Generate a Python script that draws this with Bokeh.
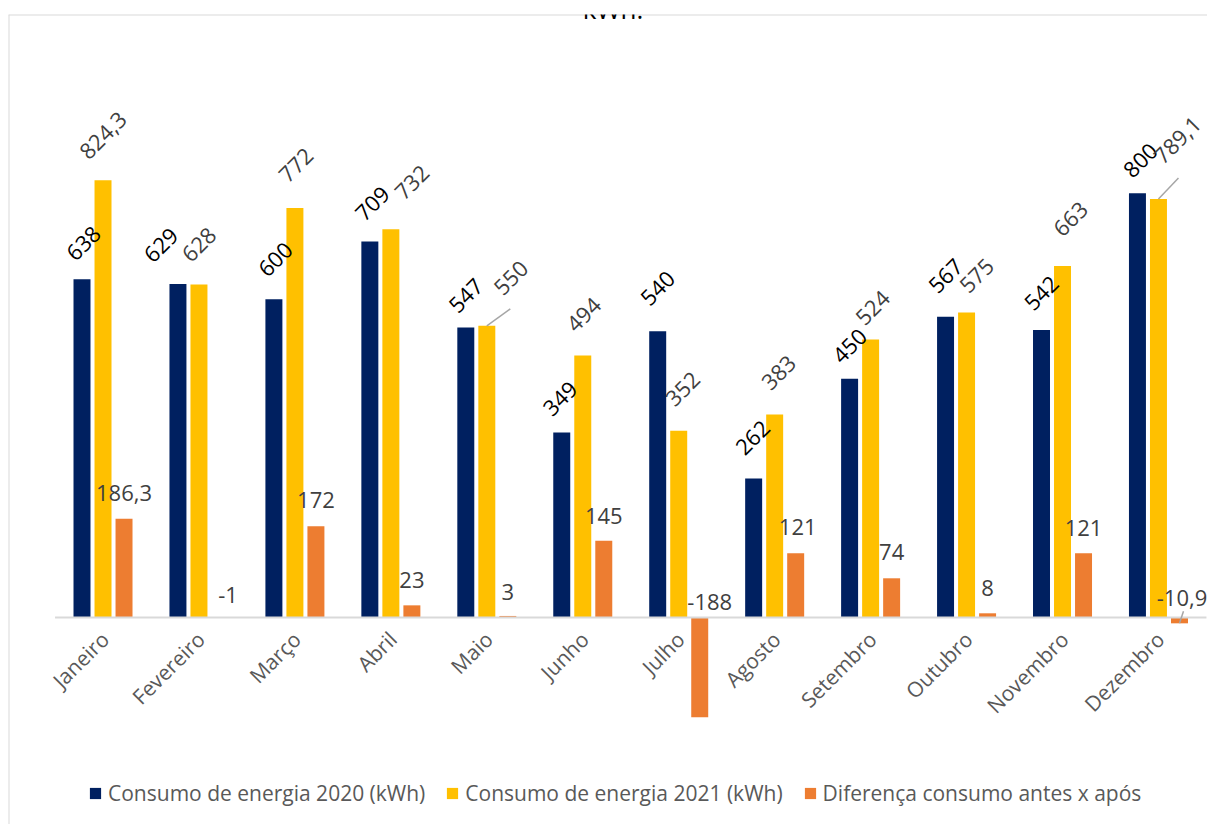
import math

from bokeh.core.properties import value
from bokeh.embed import file_html
from bokeh.models import ColumnDataSource, Label, Legend, LegendItem, Span
from bokeh.plotting import figure
from bokeh.resources import INLINE
from bokeh.transform import dodge

# ---- data -------------------------------------------------------------
months = ["Janeiro", "Fevereiro", "Março", "Abril", "Maio", "Junho",
          "Julho", "Agosto", "Setembro", "Outubro", "Novembro", "Dezembro"]
consumo_2020 = [638, 629, 600, 709, 547, 349, 540, 262, 450, 567, 542, 800]
consumo_2021 = [824.3, 628, 772, 732, 550, 494, 352, 383, 524, 575, 663, 789.1]
diferenca = [186.3, -1, 172, 23, 3, 145, -188, 121, 74, 8, 121, -10.9]

series_names = ["Consumo de energia 2020 (kWh)",
                "Consumo de energia 2021 (kWh)",
                "Diferença consumo antes x após"]

# ---- label placement (screen pixels, y grows downward) ----------------
lab20_dx = [1.5, -17, 1.5, 2.5, 0, -1.5, 0, -1, 0, 0, 0, 3]
lab20_dy = [-36, -39, -40, -38, -32, -34, -43, -41, -33, -41, -37, -33]
lab21_dx = [0, 0, 1, 21, 24, 1, 4, 4, 2, 10, 8, 19]
lab21_dy = [-45, -40, -43, -47, -48, -41, -42, -42, -32, -37, -47, -59]
labd_dx = [0, 8, 0, 0, 0, 0, 10, 2, 0, 0, 0, 2.5]
labd_dy = [-26, -23, -26, -25, -24, -25, -16, -26, -26, -25, -25, -20]

# leader lines: (month, series, dx, dy) from the bar end to the moved label
leaders = [("Maio", "c21", 23.5, -17),
           ("Dezembro", "c21", 20, -21),
           ("Dezembro", "dif", 4, -12)]

# ---- styling ------------------------------------------------------------
FONT = "Open Sans"
NAVY, GOLD, ORANGE = "#002060", "#FFC000", "#ED7D31"
BORDER = "#D9D9D9"
W, H = 1207, 824
FRAME_LEFT, FRAME_TOP = 8, 14
X_START, X_END = -0.985, 11.511
Y_START, Y_END = -390.2, 1137.0
BAR_W = 0.177
DODGE = 0.219

px_x = (W - FRAME_LEFT) / (X_END - X_START)
px_y = (H - FRAME_TOP) / (Y_END - Y_START)


def fmt(v):
    if float(v).is_integer():
        return str(int(v))
    return f"{v:.1f}".replace(".", ",")


src = ColumnDataSource(dict(
    x=list(range(len(months))),
    month=months,
    c20=consumo_2020,
    c21=consumo_2021,
    dif=diferenca,
    dif_anchor=[max(v, 0) for v in diferenca],
    t20=[fmt(v) for v in consumo_2020],
    t21=[fmt(v) for v in consumo_2021],
    tdif=[fmt(v) for v in diferenca],
    dx20=lab20_dx, dy20=lab20_dy,
    dx21=lab21_dx, dy21=lab21_dy,
    dxd=labd_dx, dyd=labd_dy,
))

p = figure(width=W, height=H, output_backend="svg", toolbar_location=None,
           x_range=(X_START, X_END), y_range=(Y_START, Y_END),
           x_axis_type=None, y_axis_type=None, title=None,
           min_border_left=FRAME_LEFT, min_border_top=FRAME_TOP,
           min_border_right=0, min_border_bottom=0)
p.grid.visible = False
p.outline_line_color = None
p.background_fill_color = "white"
p.border_fill_color = "white"

# chart box edges (left and top)
p.add_layout(Span(location=X_START, dimension="height",
                  line_color=BORDER, line_width=2))
p.add_layout(Span(location=Y_END, dimension="width",
                  line_color=BORDER, line_width=2))

# bars
r20 = p.vbar(x=dodge("x", -DODGE), top="c20", width=BAR_W, source=src,
             fill_color=NAVY, line_color=None)
r21 = p.vbar(x="x", top="c21", width=BAR_W, source=src,
             fill_color=GOLD, line_color=None)
rd = p.vbar(x=dodge("x", DODGE), top="dif", bottom=0, width=BAR_W, source=src,
            fill_color=ORANGE, line_color=None)

# category axis line at zero
p.segment(x0=-0.5, y0=0, x1=len(months) - 0.5, y1=0,
          line_color=BORDER, line_width=2)

# leader lines
idx = {m: i for i, m in enumerate(months)}
shift = {"c20": -DODGE, "c21": 0.0, "dif": DODGE}
vals = {"c20": consumo_2020, "c21": consumo_2021, "dif": diferenca}
lx0, ly0, lx1, ly1 = [], [], [], []
for m, s, dx, dy in leaders:
    i = idx[m]
    x0 = i + shift[s]
    y0 = vals[s][i]
    lx0.append(x0)
    ly0.append(y0)
    lx1.append(x0 + dx / px_x)
    ly1.append(y0 - dy / px_y)
p.segment(x0=lx0, y0=ly0, x1=lx1, y1=ly1, line_color="#A6A6A6", line_width=1.5)

# value labels
p.text(x=dodge("x", -DODGE), y="c20", text="t20", source=src,
       angle=math.pi / 4, x_offset="dx20", y_offset="dy20",
       text_align="center", text_baseline="middle",
       text_font=value(FONT), text_font_size="22px", text_color="#000000")
p.text(x="x", y="c21", text="t21", source=src,
       angle=math.pi / 4, x_offset="dx21", y_offset="dy21",
       text_align="center", text_baseline="middle",
       text_font=value(FONT), text_font_size="22px", text_color="#404040")
p.text(x=dodge("x", DODGE), y="dif_anchor", text="tdif", source=src,
       x_offset="dxd", y_offset="dyd",
       text_align="center", text_baseline="middle",
       text_font=value(FONT), text_font_size="22px", text_color="#404040")

# month labels, rotated
p.text(x="x", y=0, text="month", source=src, angle=math.pi / 4,
       x_offset=-8, y_offset=8, text_align="right", text_baseline="top",
       text_font=value(FONT), text_font_size="21px", text_color="#595959")

# title (last line, cut by the page top)
p.add_layout(Label(x=(X_START + X_END) / 2, y=Y_END, x_offset=5, y_offset=6,
                   text="kWh.", text_align="center", text_baseline="alphabetic",
                   text_font=FONT, text_font_size="26px", text_color="#000000"))

legend = Legend(items=[LegendItem(label=series_names[0], renderers=[r20]),
                       LegendItem(label=series_names[1], renderers=[r21]),
                       LegendItem(label=series_names[2], renderers=[rd])],
                orientation="horizontal", location=(80, 17),
                glyph_width=14, glyph_height=14, label_standoff=6, spacing=20,
                padding=0, margin=0,
                label_text_font=FONT, label_text_font_size="21px",
                label_text_color="#595959",
                border_line_color=None, background_fill_alpha=0)
p.add_layout(legend)

open("out.html", "w").write(file_html(p, INLINE))
